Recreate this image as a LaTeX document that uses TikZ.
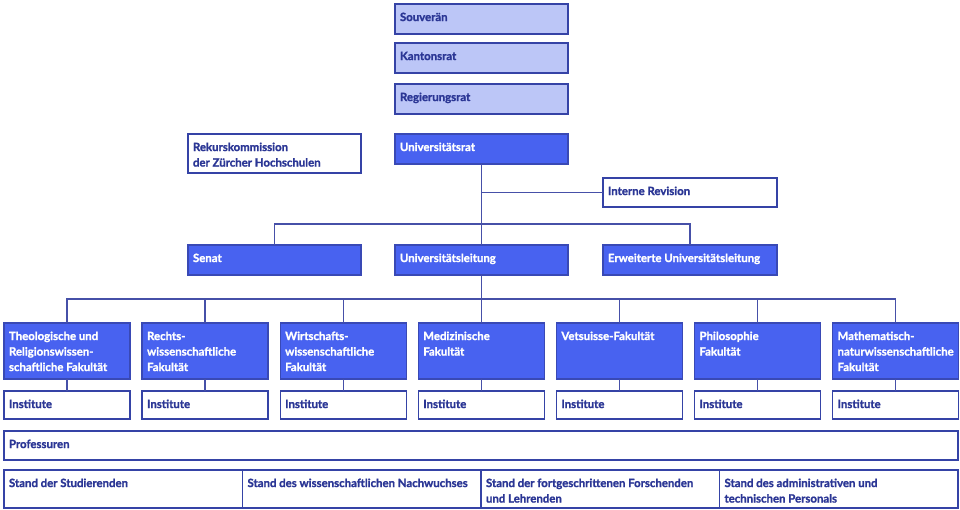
\documentclass[tikz,border=0pt]{standalone}
\usepackage{fontspec}
\setmainfont{Lato}[BoldFont={Lato Bold}, BoldFeatures={FakeBold=1.3}]
\definecolor{darkf}{HTML}{4862F0}
\definecolor{lightf}{HTML}{BCC6F7}
\definecolor{bord}{HTML}{3543A6}
\definecolor{navy}{HTML}{2B3695}
\definecolor{linec}{HTML}{4650A8}
\newcommand\bt[3]{\parbox[c][#2][t]{#1}{\fontsize{11.4}{15.5}\selectfont\bfseries\hyphenpenalty=10000\vspace*{6.2pt}\raggedright\leftskip=5pt\rightskip=0pt plus 3em\strut #3\par}}
\tikzset{
  base/.style={inner sep=0pt, outer sep=0pt, anchor=north west, line width=1.3pt},
  lightbox/.style={base, draw=bord, fill=lightf, text=navy},
  darkbox/.style={base, draw=bord!80!darkf, fill=darkf, text=white},
  whitebox/.style={base, draw=bord, fill=white, text=navy},
  conn/.style={draw=linec, line width=1.3pt},
}
\begin{document}
\begin{tikzpicture}[x=1pt,y=-1pt]
\useasboundingbox (0,0) rectangle (960,510);
% top chain
\node[lightbox] (souv) at (395,4) {\bt{173pt}{30pt}{Souverän}};
\node[lightbox] (kant) at (395,43) {\bt{173pt}{30pt}{Kantonsrat}};
\node[lightbox] (regr) at (395,84) {\bt{173pt}{30pt}{Regierungsrat}};
\node[darkbox] (urat) at (395,134) {\bt{173pt}{30pt}{Universitätsrat}};
\node[whitebox] (rek) at (188,134) {\bt{173pt}{39pt}{Rekurskommission\\der Zürcher Hochschulen}};
\node[whitebox] (rev) at (603,178) {\bt{174pt}{29pt}{Interne Revision}};
\node[darkbox] (senat) at (188,245) {\bt{173pt}{30pt}{Senat}};
\node[darkbox] (uleit) at (395,245) {\bt{173pt}{30pt}{Universitätsleitung}};
\node[darkbox] (erw) at (603,245) {\bt{174pt}{30pt}{Erweiterte Universitätsleitung}};
% faculties
\node[darkbox] (f1) at (4,323) {\bt{126pt}{56pt}{Theologische und\\Religionswissen-\\schaftliche Fakultät}};
\node[darkbox] (f2) at (142.1,323) {\bt{126pt}{56pt}{Rechts-\\wissenschaftliche\\Fakultät}};
\node[darkbox] (f3) at (280.2,323) {\bt{126pt}{56pt}{Wirtschafts-\\wissenschaftliche\\Fakultät}};
\node[darkbox] (f4) at (418.3,323) {\bt{126pt}{56pt}{Medizinische\\Fakultät}};
\node[darkbox] (f5) at (556.4,323) {\bt{126pt}{56pt}{Vetsuisse-Fakultät}};
\node[darkbox] (f6) at (694.5,323) {\bt{126pt}{56pt}{Philosophie\\Fakultät}};
\node[darkbox] (f7) at (832.6,323) {\bt{126pt}{56pt}{Mathematisch-\\naturwissenschaftliche\\Fakultät}};
\foreach \i/\x in {1/4,2/142.1,3/280.2,4/418.3,5/556.4,6/694.5,7/832.6}{
  \node[whitebox] (i\i) at (\x,391) {\bt{126pt}{28pt}{Institute}};
}
\node[whitebox] (prof) at (4,431) {\bt{954pt}{29pt}{Professuren}};
\node[whitebox] (s1) at (4,470) {\bt{238.5pt}{38pt}{Stand der Studierenden}};
\node[whitebox] (s2) at (242.5,470) {\bt{238.5pt}{38pt}{Stand des wissenschaftlichen Nachwuchses}};
\node[whitebox] (s3) at (481,470) {\bt{238.5pt}{38pt}{Stand der fortgeschrittenen Forschenden\\und Lehrenden}};
\node[whitebox] (s4) at (719.5,470) {\bt{238.5pt}{38pt}{Stand des administrativen und\\technischen Personals}};
% connectors
\draw[conn] (urat.south) -- (uleit.north);
\draw[conn] (urat.south |- rev.west) -- (rev.west);
\draw[conn] (senat.north) -- ++(0,-21) -| (erw.north);
\draw[conn] (uleit.south) -- (uleit.south |- 0,299);
\draw[conn] (f1.north) -- ++(0,-24) -| (f7.north);
\foreach \i in {2,...,6}{ \draw[conn] (f\i.north) -- ++(0,-24); }
\foreach \i in {1,...,7}{ \draw[conn] (f\i.south) -- (i\i.north); }
\end{tikzpicture}
\end{document}
